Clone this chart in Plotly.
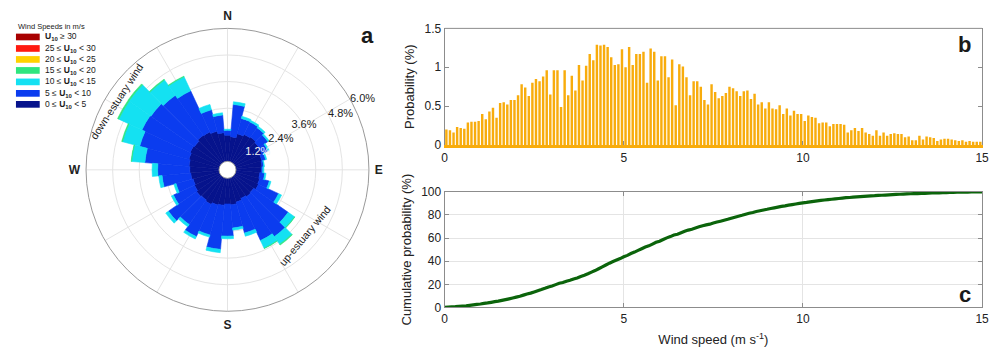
import numpy as np
import plotly.graph_objects as go

# The page body has an 8px margin; size the figure so the page fits the window.
OFF = 8
W, H = 1001 - OFF, 355 - 2 * OFF
def px(x):
    return (x - OFF) / W
def py(y):
    return 1 - (y - OFF) / H

FONT = "Liberation Sans, Arial, Helvetica, sans-serif"

# ---------------- wind rose data (percent of time per 10-degree sector) ----------------
directions = list(range(0, 360, 10))
r_0_5 = [1.18, 1.12, 1.30, 1.38, 1.42, 1.36, 1.33, 1.22, 1.18, 1.14, 1.08, 1.12,
         1.16, 1.06, 1.10, 1.04, 1.12, 1.20, 1.16, 1.22, 1.26, 1.34, 1.28, 1.32,
         1.26, 1.22, 1.28, 1.32, 1.36, 1.42, 1.48, 1.44, 1.52, 1.50, 1.42, 1.30]
r_5_10 = [0.22, 1.46, 0.72, 0.62, 0.52, 0.48, 0.30, 0.18, 0.08, 0.07, 0.22, 0.45,
          1.00, 1.90, 2.20, 2.10, 1.45, 1.05, 1.45, 2.00, 1.40, 1.60, 1.35, 1.55,
          1.05, 0.80, 1.30, 1.45, 2.00, 2.30, 2.40, 2.40, 2.20, 2.05, 1.00, 0.80]
r_10_15 = [0.05, 0.12, 0.10, 0.08, 0.08, 0.07, 0.06, 0.05, 0.03, 0.05, 0.06, 0.08,
           0.15, 0.35, 0.42, 0.38, 0.15, 0.10, 0.12, 0.15, 0.10, 0.12, 0.12, 0.15,
           0.10, 0.10, 0.15, 0.25, 0.60, 0.80, 1.15, 1.20, 0.85, 0.70, 0.25, 0.10]
r_15_20 = [0, 0, 0, 0, 0, 0, 0, 0, 0, 0, 0, 0,
           0, 0.02, 0.04, 0.02, 0, 0, 0, 0, 0, 0, 0, 0,
           0, 0, 0, 0, 0.02, 0.04, 0.06, 0.06, 0.04, 0.03, 0, 0]
r_20_25 = [0] * 36
r_25_30 = [0] * 36
r_30_up = [0] * 36

speed_classes = ["0 ≤ U10 < 5", "5 ≤ U10 < 10", "10 ≤ U10 < 15", "15 ≤ U10 < 20",
                 "20 ≤ U10 < 25", "25 ≤ U10 < 30", "U10 ≥ 30"]
legend_labels = ["0 ≤ <b>U<sub>10</sub></b> < 5", "5 ≤ <b>U<sub>10</sub></b> < 10",
                 "10 ≤ <b>U<sub>10</sub></b> < 15", "15 ≤ <b>U<sub>10</sub></b> < 20",
                 "20 ≤ <b>U<sub>10</sub></b> < 25", "25 ≤ <b>U<sub>10</sub></b> < 30",
                 "<b>U<sub>10</sub></b> ≥ 30"]
class_colors = ["#06138C", "#0B3CEF", "#14E1F2", "#2EE67E", "#FFD200", "#FF1A10", "#A80000"]

ring_values = [1.2, 2.4, 3.6, 4.8, 6.0]
ring_labels = ["1.2%", "2.4%", "3.6%", "4.8%", "6.0%"]

# ---------------- wind speed histogram (probability %, 0.1 m/s bins) ----------------
probability = [
    0.20, 0.19, 0.16, 0.23, 0.22, 0.21, 0.29, 0.30, 0.30, 0.31,
    0.40, 0.33, 0.43, 0.48, 0.35, 0.54, 0.55, 0.52, 0.58, 0.58,
    0.64, 0.78, 0.74, 0.63, 0.80, 0.85, 0.82, 0.88, 0.96, 0.65,
    0.96, 0.96, 0.49, 0.96, 0.64, 0.89, 0.70, 1.03, 0.83, 1.02,
    1.17, 1.09, 1.29, 1.28, 1.29, 1.26, 1.13, 1.03, 1.04, 1.23,
    1.00, 1.26, 1.03, 1.17, 1.17, 1.20, 0.80, 1.24, 1.20, 0.83,
    1.14, 1.14, 0.87, 1.10, 0.51, 1.04,
    1.01, 0.87, 0.64, 0.82, 0.82, 0.75, 0.58, 0.52, 0.78, 0.68,
    0.60, 0.63, 0.67, 0.75, 0.73, 0.69, 0.63, 0.69, 0.70, 0.59,
    0.66, 0.52, 0.55, 0.47, 0.55, 0.47, 0.46, 0.51, 0.40, 0.47,
    0.38, 0.44, 0.40, 0.40, 0.31, 0.38, 0.36, 0.35, 0.28, 0.29,
    0.29, 0.24, 0.27, 0.27, 0.27, 0.26, 0.16, 0.19, 0.22, 0.18,
    0.22, 0.16, 0.14, 0.12, 0.19, 0.12, 0.16, 0.12, 0.14, 0.15,
    0.14, 0.14, 0.10, 0.11, 0.06, 0.06, 0.12, 0.07, 0.11, 0.10,
    0.09, 0.05, 0.07, 0.08, 0.08, 0.07, 0.06, 0.05, 0.06, 0.04,
    0.05, 0.04, 0.04, 0.04,
]
bin_width = 0.1
speed_centers = [round(bin_width * (i + 0.5), 3) for i in range(len(probability))]
speed_edges = [0.0] + [round(bin_width * (i + 1), 3) for i in range(len(probability))]
cum = np.cumsum(probability)
cumulative = [0.0] + list(cum / cum[-1] * 100)

x_ticks = [0, 5, 10, 15]
b_y_ticks = [0, 0.5, 1, 1.5]
b_y_text = ["0", "0.5", "1", "1.5"]
c_y_ticks = [0, 20, 40, 60, 80, 100]

BAR_COLOR = "#F8AC0C"
AXIS_GRAY = "#8c8c8c"
GRID = "#e4e4e4"

fig = go.Figure()

# ---- wind rose ----
series = [r_0_5, r_5_10, r_10_15, r_15_20, r_20_25, r_25_30, r_30_up]
for name, vals, col in zip(speed_classes, series, class_colors):
    fig.add_trace(go.Barpolar(
        r=vals, theta=directions, width=[10] * len(directions), name=name,
        marker=dict(color=col, line=dict(color=col, width=0.6)),
        showlegend=False, hoverinfo="skip"))

fig.add_trace(go.Scatterpolar(
    r=ring_values, theta=[60, 60, 60, 61, 60], mode="text", text=ring_labels,
    textposition=["middle center", "middle center", "middle center", "middle right", "middle right"],
    textfont=dict(family=FONT, size=11, color=["#f0f0f0", "#222", "#222", "#222", "#222"]),
    cliponaxis=False, showlegend=False, hoverinfo="skip"))

# ---- panel b ----
fig.add_trace(go.Bar(x=speed_centers, y=probability, width=0.068,
                     marker=dict(color=BAR_COLOR, line=dict(width=0)),
                     xaxis="x", yaxis="y", showlegend=False))

# ---- panel c ----
fig.add_trace(go.Scatter(x=speed_edges, y=cumulative, mode="lines",
                         line=dict(color="#0B640B", width=3.2, simplify=False),
                         xaxis="x2", yaxis="y2", showlegend=False))

tickfont = dict(family=FONT, size=12, color="#222")

fig.update_layout(
    width=W, height=H, autosize=False,
    margin=dict(l=0, r=0, t=0, b=0),
    paper_bgcolor="white", plot_bgcolor="white",
    font=dict(family=FONT, color="#222"),
    polar=dict(
        domain=dict(x=[px(78.7), px(374.7)], y=[py(318), py(22)]),
        bgcolor="white", hole=0.06, bargap=0, barmode="stack",
        angularaxis=dict(rotation=90, direction="clockwise",
                         tickmode="array", tickvals=list(range(0, 360, 30)),
                         ticktext=["<b>N</b>", "", "", "<b>E</b>", "", "", "<b>S</b>", "", "", "<b>W</b>", "", ""],
                         tickfont=dict(family=FONT, size=12, color="#222"),
                         showline=True, linecolor="#9a9a9a", linewidth=1,
                         gridcolor=GRID, ticks="outside", ticklen=3,
                         tickcolor="rgba(0,0,0,0)"),
        radialaxis=dict(range=[0, 6.0], tickmode="array", tickvals=ring_values,
                        showticklabels=False, showline=False, ticks="",
                        gridcolor=GRID),
    ),
    xaxis=dict(domain=[px(446), px(989)], anchor="y", range=[0, 15],
               tickvals=x_ticks, ticks="inside", ticklen=4, tickcolor=AXIS_GRAY,
               showline=True, linecolor=BAR_COLOR, linewidth=2.5,
               showgrid=False, zeroline=False, tickfont=tickfont,
               ticklabeloverflow="allow"),
    yaxis=dict(domain=[py(144), py(22)], anchor="x", range=[0, 1.5],
               tickvals=b_y_ticks, ticktext=b_y_text, ticks="inside", ticklen=4,
               tickcolor=AXIS_GRAY, showline=True, linecolor=AXIS_GRAY, mirror="ticks",
               showgrid=False, zeroline=False, tickfont=tickfont,
               title=dict(text="Probability (%)", font=dict(family=FONT, size=13), standoff=6)),
    xaxis2=dict(domain=[px(446), px(989)], anchor="y2", range=[0, 15],
                tickvals=x_ticks, ticks="inside", ticklen=4, tickcolor=AXIS_GRAY,
                showline=True, linecolor=AXIS_GRAY, mirror="ticks",
                showgrid=True, gridcolor=GRID, zeroline=False, tickfont=tickfont,
                ticklabeloverflow="allow",
                title=dict(text="Wind speed (m s<sup>-1</sup>)", font=dict(family=FONT, size=13), standoff=12)),
    yaxis2=dict(domain=[py(314), py(193)], anchor="x2", range=[0, 100],
                tickvals=c_y_ticks, ticks="inside", ticklen=4, tickcolor=AXIS_GRAY,
                showline=True, linecolor=AXIS_GRAY, mirror="ticks",
                showgrid=True, gridcolor=GRID, zeroline=False, tickfont=tickfont,
                title=dict(text="Cumulative probability (%)", font=dict(family=FONT, size=13), standoff=6)),
)

# top frame line of panel b
fig.add_shape(type="line", xref="x domain", yref="y domain", x0=0, x1=1, y0=1, y1=1,
              line=dict(color=AXIS_GRAY, width=1))

annotations = [
    dict(text="<b>a</b>", x=px(368), y=py(29), font=dict(size=22)),
    dict(text="<b>b</b>", x=px(971), y=py(39), font=dict(size=22)),
    dict(text="<b>c</b>", x=px(972), y=py(300), font=dict(size=22)),
    dict(text="down-estuary wind", x=px(114.5), y=py(97.5), textangle=-57, font=dict(size=10.5)),
    dict(text="up-estuary wind", x=px(304.5), y=py(239.5), textangle=-50.5, font=dict(size=10.5)),
    dict(text="Wind Speeds in m/s", x=px(13), y=py(20), xanchor="left", font=dict(size=7.5)),
]
for a in annotations:
    a.setdefault("xanchor", "center")
    a.update(xref="paper", yref="paper", yanchor="middle", showarrow=False)
    a["font"] = dict(family=FONT, color="#1a1a1a", **a["font"])
    fig.add_annotation(**a)

# manual legend (top to bottom: highest class first)
legend_rows_y = [31, 43, 54.5, 66, 78, 90, 101.5]
for row_y, lab, col in zip(legend_rows_y, legend_labels[::-1], class_colors[::-1]):
    fig.add_shape(type="rect", xref="paper", yref="paper",
                  x0=px(13), x1=px(37), y0=py(row_y + 3.5), y1=py(row_y - 3.5),
                  fillcolor=col, line=dict(width=0))
    fig.add_annotation(text=lab, x=px(40), y=py(row_y), xref="paper", yref="paper",
                       xanchor="left", yanchor="middle", showarrow=False,
                       font=dict(family=FONT, size=8.5, color="#1a1a1a"))

fig.write_html("out.html")
